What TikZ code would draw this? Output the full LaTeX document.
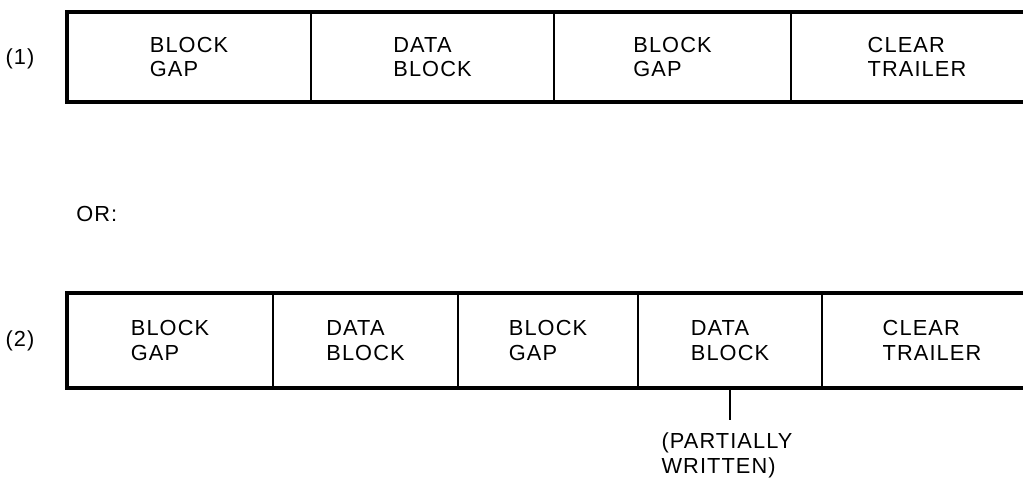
\documentclass[tikz,border=0pt]{standalone}
\usepackage{fontspec}
\setmainfont{Liberation Sans}[LetterSpace=5]
\usetikzlibrary{positioning}

\tikzset{
  cell/.style={inner sep=0pt, outer sep=0pt, align=left},
  frame/.style={line width=2.2pt},
  divider/.style={line width=1.5pt},
}

\begin{document}
\begin{tikzpicture}[font=\fontsize{12.4}{14}\selectfont]
        \useasboundingbox (0,0) rectangle (20.46,-9.56);
        \coordinate (rim) at (20.46,0);
        % row (1)
        \node (lab1) at (0.40,-1.18) {(1)};
        \node[cell, minimum height=1.8cm, minimum width=4.88cm, anchor=west] (a1) at (1.34,-1.14) {BLOCK\\GAP};
        \node[cell, minimum height=1.8cm, minimum width=4.86cm, right=0pt of a1] (a2) {DATA\\BLOCK};
        \node[cell, minimum height=1.8cm, minimum width=4.74cm, right=0pt of a2] (a3) {BLOCK\\GAP};
        \node[cell, minimum height=1.8cm, minimum width=5.04cm, right=0pt of a3] (a4) {CLEAR\\TRAILER};
        \draw[frame] (a1.north west -| rim) -- (a1.north west) -- (a1.south west) -- (a1.south west -| rim);
        \foreach \c in {a1,a2,a3}
          \draw[divider] (\c.north east) -- (\c.south east);

        \node[anchor=west, inner sep=0pt] (or) at (1.52,-4.28) {OR:};

        % row (2)
        \node (lab2) at (0.40,-6.82) {(2)};
        \node[cell, minimum height=1.9cm, minimum width=4.12cm, anchor=west] (b1) at (1.34,-6.81) {BLOCK\\GAP};
        \node[cell, minimum height=1.9cm, minimum width=3.70cm, right=0pt of b1] (b2) {DATA\\BLOCK};
        \node[cell, minimum height=1.9cm, minimum width=3.60cm, right=0pt of b2] (b3) {BLOCK\\GAP};
        \node[cell, minimum height=1.9cm, minimum width=3.68cm, right=0pt of b3] (b4) {DATA\\BLOCK};
        \node[cell, minimum height=1.9cm, minimum width=4.40cm, right=0pt of b4] (b5) {CLEAR\\TRAILER};
        \draw[frame] (b1.north west -| rim) -- (b1.north west) -- (b1.south west) -- (b1.south west -| rim);
        \foreach \c in {b1,b2,b3,b4}
          \draw[divider] (\c.north east) -- (\c.south east);

        \node[cell, outer sep=0.26cm, below=0.64cm of b4, xshift=-0.06cm] (note) {(PARTIALLY\\WRITTEN)};
        \draw[divider] (b4.south) -- (b4.south |- note.north);
      \end{tikzpicture}
\end{document}
